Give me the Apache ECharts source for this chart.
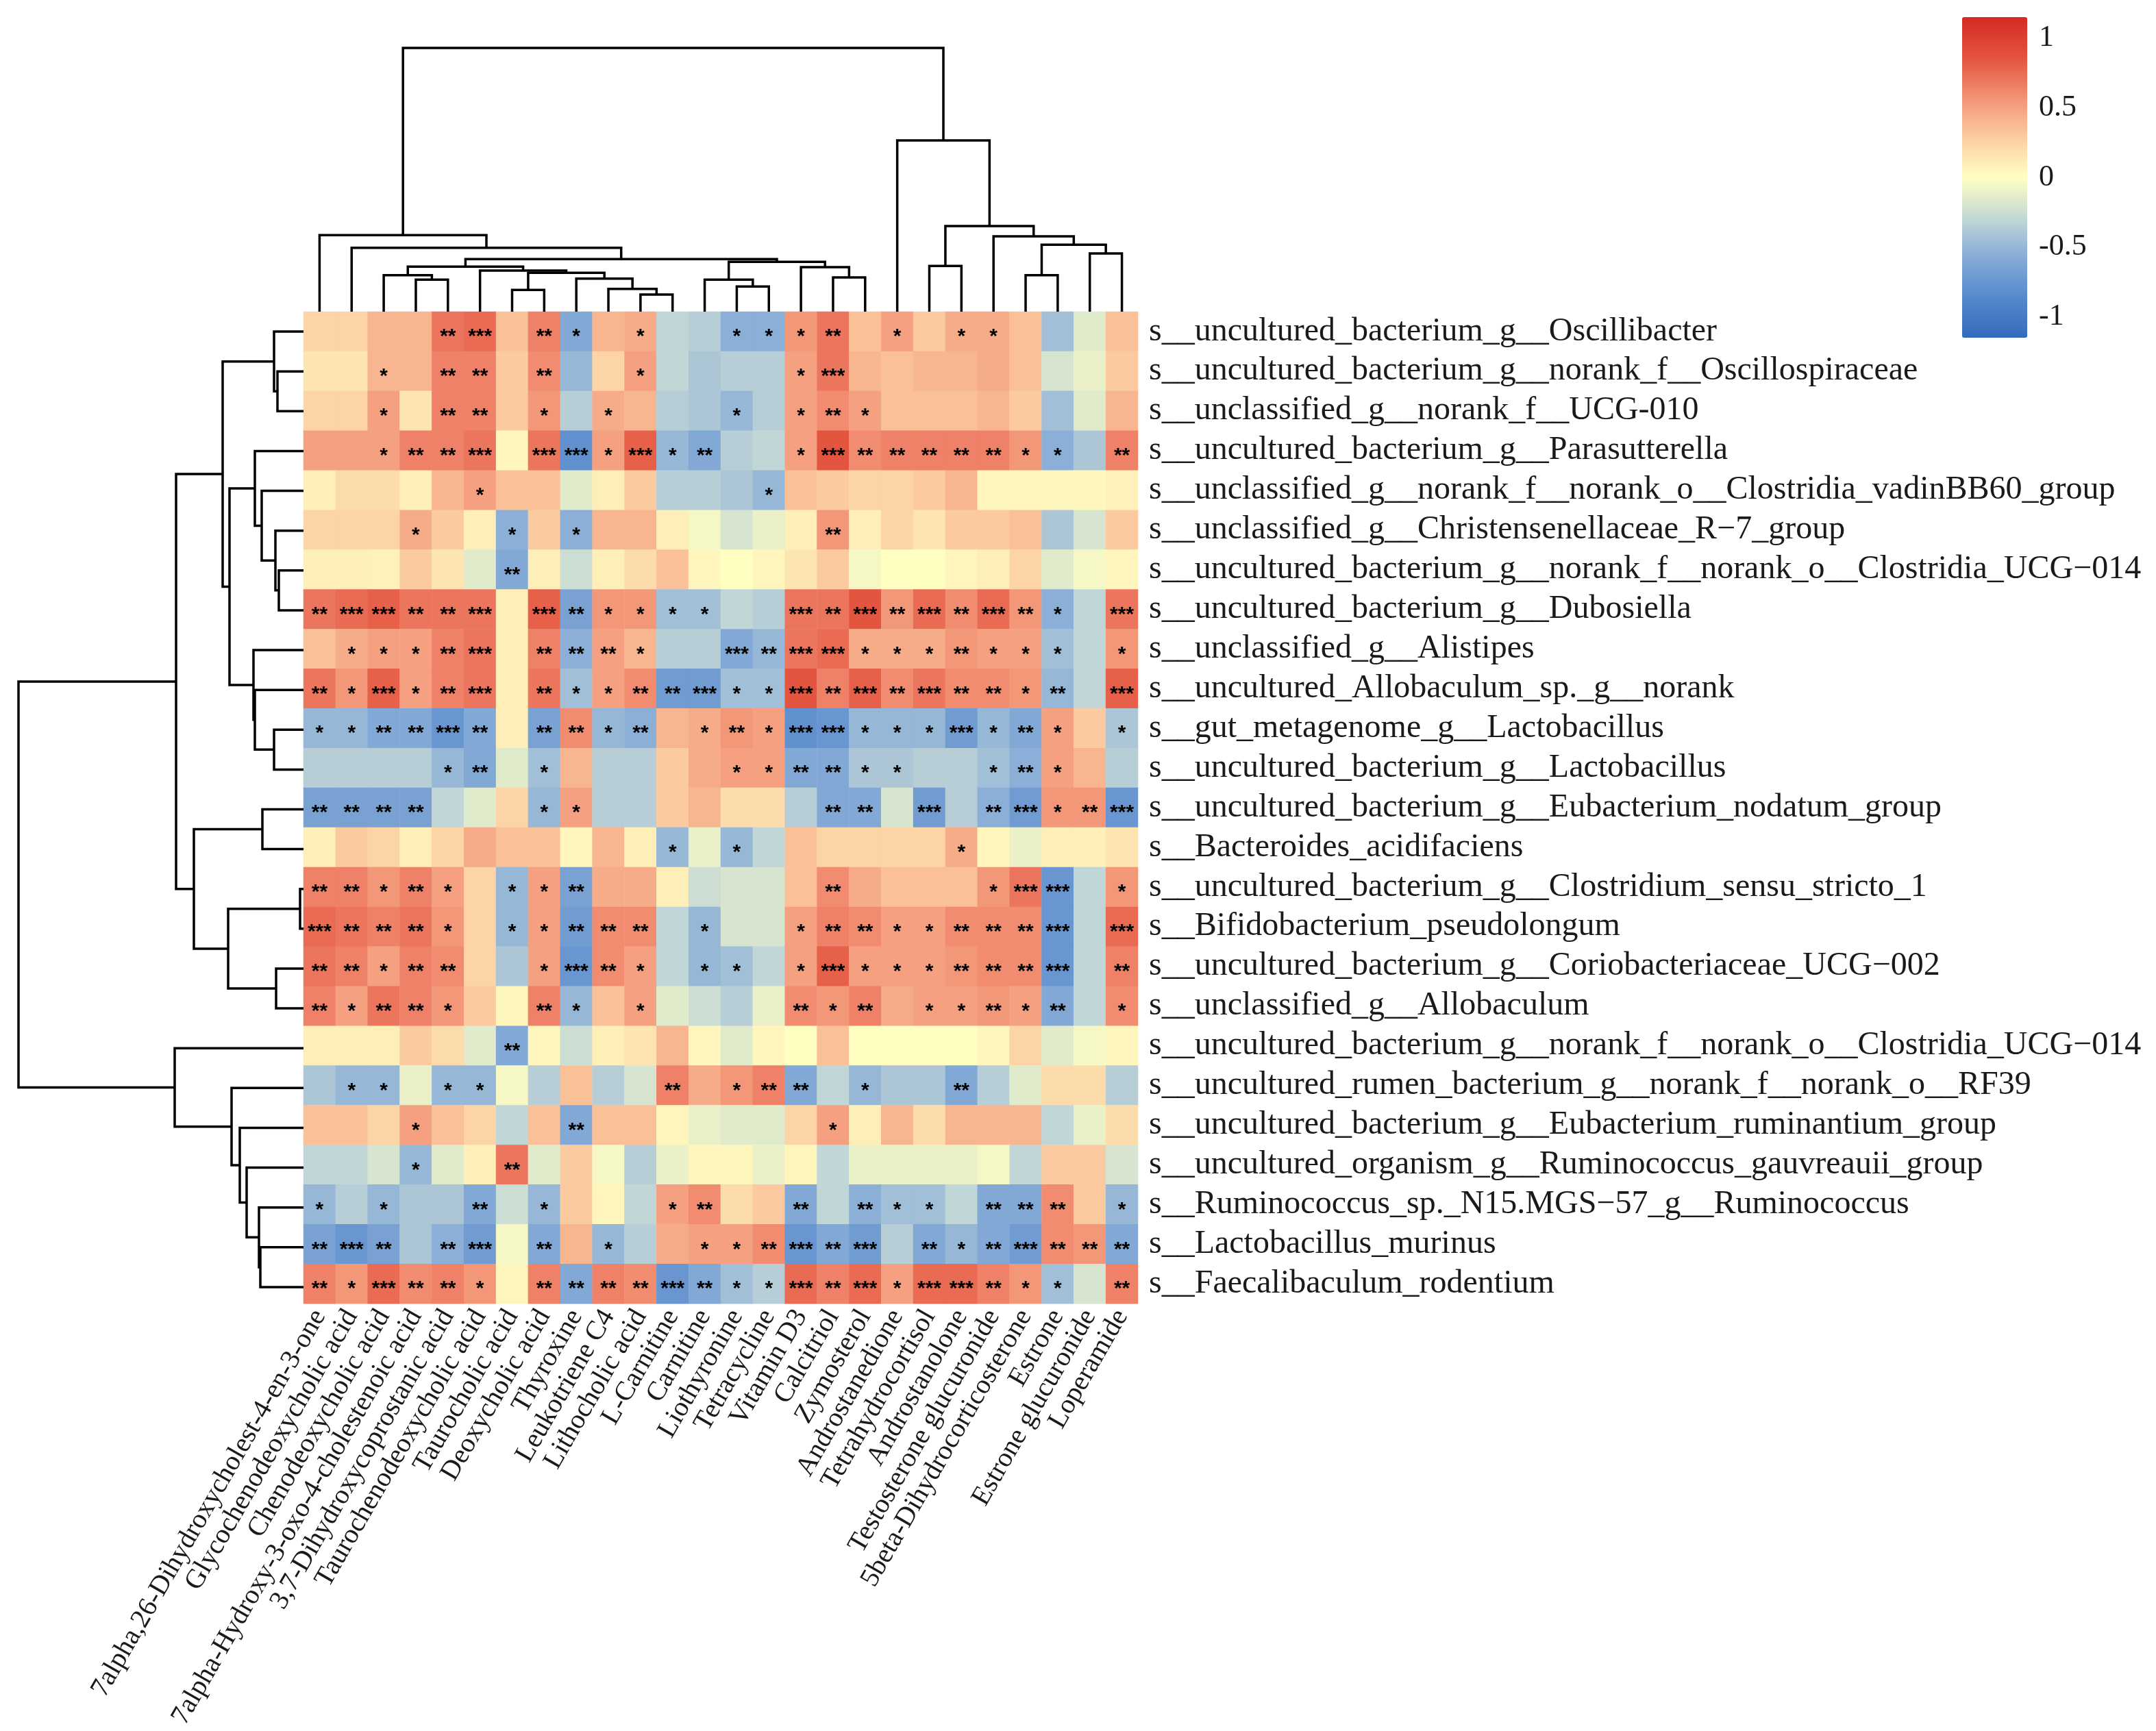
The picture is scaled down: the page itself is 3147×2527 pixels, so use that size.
<!DOCTYPE html>
<html><head><meta charset="utf-8">
<script src="https://cdn.jsdelivr.net/npm/echarts@6/dist/echarts.min.js"></script>
<style>html,body{margin:0;padding:0;background:#fff}#c{width:3147px;height:2527px}</style>
</head><body><div id="c"></div>
<script>
const colLabels = ["7alpha,26-Dihydroxycholest-4-en-3-one","Glycochenodeoxycholic acid","Chenodeoxycholic acid","7alpha-Hydroxy-3-oxo-4-cholestenoic acid","3,7-Dihydroxycoprostanic acid","Taurochenodeoxycholic acid","Taurocholic acid","Deoxycholic acid","Thyroxine","Leukotriene C4","Lithocholic acid","L-Carnitine","Carnitine","Liothyronine","Tetracycline","Vitamin D3","Calcitriol","Zymosterol","Androstanedione","Tetrahydrocortisol","Androstanolone","Testosterone glucuronide","5beta-Dihydrocorticosterone","Estrone","Estrone glucuronide","Loperamide"];
const rowLabels = ["s__uncultured_bacterium_g__Oscillibacter","s__uncultured_bacterium_g__norank_f__Oscillospiraceae","s__unclassified_g__norank_f__UCG-010","s__uncultured_bacterium_g__Parasutterella","s__unclassified_g__norank_f__norank_o__Clostridia_vadinBB60_group","s__unclassified_g__Christensenellaceae_R\u22127_group","s__uncultured_bacterium_g__norank_f__norank_o__Clostridia_UCG\u2212014","s__uncultured_bacterium_g__Dubosiella","s__unclassified_g__Alistipes","s__uncultured_Allobaculum_sp._g__norank","s__gut_metagenome_g__Lactobacillus","s__uncultured_bacterium_g__Lactobacillus","s__uncultured_bacterium_g__Eubacterium_nodatum_group","s__Bacteroides_acidifaciens","s__uncultured_bacterium_g__Clostridium_sensu_stricto_1","s__Bifidobacterium_pseudolongum","s__uncultured_bacterium_g__Coriobacteriaceae_UCG\u2212002","s__unclassified_g__Allobaculum","s__uncultured_bacterium_g__norank_f__norank_o__Clostridia_UCG\u2212014","s__uncultured_rumen_bacterium_g__norank_f__norank_o__RF39","s__uncultured_bacterium_g__Eubacterium_ruminantium_group","s__uncultured_organism_g__Ruminococcus_gauvreauii_group","s__Ruminococcus_sp._N15.MGS\u221257_g__Ruminococcus","s__Lactobacillus_murinus","s__Faecalibaculum_rodentium"];

// correlation values: one array per row (top to bottom), one entry per column (left to right)
const values = [
[0.25,0.25,0.4,0.4,0.7,0.75,0.35,0.65,-0.6,0.4,0.45,-0.3,-0.35,-0.55,-0.55,0.55,0.7,0.35,0.5,0.3,0.45,0.45,0.35,-0.45,-0.15,0.35],
[0.15,0.15,0.4,0.4,0.65,0.65,0.3,0.6,-0.5,0.25,0.5,-0.3,-0.4,-0.35,-0.35,0.5,0.7,0.4,0.35,0.4,0.4,0.45,0.35,-0.2,-0.1,0.3],
[0.25,0.25,0.5,0.15,0.65,0.65,0.3,0.55,-0.35,0.45,0.4,-0.35,-0.4,-0.5,-0.35,0.5,0.6,0.5,0.35,0.35,0.35,0.4,0.3,-0.45,-0.15,0.4],
[0.5,0.5,0.5,0.65,0.65,0.7,0.05,0.7,-0.8,0.5,0.8,-0.5,-0.6,-0.35,-0.3,0.5,0.85,0.6,0.65,0.65,0.65,0.65,0.55,-0.55,-0.4,0.65],
[0.1,0.2,0.2,0.1,0.4,0.5,0.35,0.35,-0.15,0.1,0.3,-0.35,-0.35,-0.4,-0.5,0.35,0.3,0.25,0.25,0.3,0.4,0.05,0.05,0.05,0.05,0.08],
[0.25,0.25,0.25,0.45,0.3,0.1,-0.55,0.3,-0.55,0.4,0.4,0.1,-0.05,-0.2,-0.1,0.1,0.55,0.1,0.25,0.15,0.3,0.3,0.35,-0.4,-0.2,0.3],
[0.1,0.1,0.08,0.3,0.15,-0.15,-0.6,0.1,-0.25,0.1,0.2,0.35,0.05,0.0,0.05,0.15,0.3,-0.05,0.0,0.0,0.05,0.1,0.25,-0.15,-0.05,0.05],
[0.7,0.75,0.8,0.7,0.7,0.7,0.1,0.8,-0.65,0.55,0.55,-0.45,-0.45,-0.3,-0.35,0.7,0.7,0.85,0.55,0.75,0.6,0.75,0.55,-0.55,-0.3,0.7],
[0.35,0.45,0.5,0.5,0.65,0.7,0.1,0.65,-0.55,0.5,0.4,-0.35,-0.35,-0.6,-0.5,0.7,0.75,0.45,0.45,0.45,0.55,0.5,0.5,-0.45,-0.3,0.55],
[0.7,0.55,0.8,0.5,0.65,0.7,0.1,0.7,-0.45,0.5,0.6,-0.7,-0.7,-0.45,-0.45,0.85,0.65,0.8,0.6,0.7,0.6,0.6,0.55,-0.5,-0.3,0.8],
[-0.5,-0.5,-0.6,-0.6,-0.75,-0.6,0.1,-0.65,0.6,-0.5,-0.55,0.4,0.45,0.55,0.5,-0.8,-0.75,-0.5,-0.5,-0.5,-0.7,-0.5,-0.6,0.5,0.3,-0.4],
[-0.35,-0.35,-0.35,-0.35,-0.5,-0.6,-0.15,-0.45,0.4,-0.35,-0.35,0.3,0.45,0.5,0.5,-0.6,-0.6,-0.4,-0.4,-0.35,-0.35,-0.45,-0.55,0.5,0.4,-0.35],
[-0.65,-0.65,-0.65,-0.65,-0.3,-0.15,0.25,-0.5,0.5,-0.35,-0.35,0.3,0.4,0.2,0.2,-0.35,-0.6,-0.6,-0.2,-0.7,-0.35,-0.55,-0.7,0.55,0.55,-0.75],
[0.1,0.3,0.25,0.1,0.25,0.45,0.35,0.35,0.05,0.4,0.1,-0.5,-0.1,-0.5,-0.3,0.35,0.25,0.25,0.25,0.25,0.45,0.05,-0.1,0.1,0.1,0.15],
[0.65,0.65,0.55,0.65,0.5,0.25,-0.5,0.5,-0.65,0.45,0.45,0.1,-0.25,-0.2,-0.2,0.35,0.6,0.45,0.35,0.35,0.35,0.55,0.7,-0.75,-0.3,0.55],
[0.75,0.7,0.65,0.7,0.55,0.25,-0.5,0.5,-0.7,0.6,0.6,-0.3,-0.5,-0.2,-0.2,0.5,0.65,0.6,0.5,0.5,0.6,0.6,0.6,-0.75,-0.3,0.75],
[0.7,0.65,0.5,0.65,0.6,0.25,-0.4,0.5,-0.75,0.6,0.5,-0.3,-0.5,-0.45,-0.3,0.5,0.8,0.5,0.5,0.5,0.55,0.6,0.6,-0.75,-0.3,0.65],
[0.65,0.5,0.7,0.65,0.55,0.3,0.05,0.65,-0.5,0.35,0.5,-0.15,-0.25,-0.35,-0.1,0.6,0.55,0.65,0.45,0.5,0.5,0.55,0.5,-0.6,-0.3,0.6],
[0.1,0.1,0.1,0.3,0.2,-0.15,-0.6,0.05,-0.25,0.1,0.15,0.4,0.05,-0.15,0.05,0.0,0.35,0.0,0.0,0.0,0.0,0.05,0.25,-0.15,-0.05,0.05],
[-0.4,-0.5,-0.5,-0.1,-0.5,-0.5,-0.05,-0.35,0.35,-0.35,-0.2,0.65,0.45,0.55,0.65,-0.6,-0.3,-0.5,-0.4,-0.4,-0.6,-0.35,-0.15,0.2,0.2,-0.35],
[0.35,0.35,0.25,0.5,0.35,0.25,-0.3,0.35,-0.6,0.35,0.35,0.05,-0.1,-0.15,-0.15,0.25,0.5,0.1,0.4,0.2,0.4,0.4,0.4,-0.3,-0.1,0.2],
[-0.3,-0.3,-0.2,-0.5,-0.15,0.1,0.7,-0.15,0.3,-0.05,-0.35,-0.1,0.05,0.05,-0.1,0.05,-0.3,-0.1,-0.1,-0.1,-0.1,-0.05,-0.3,0.3,0.3,-0.2],
[-0.5,-0.35,-0.5,-0.4,-0.4,-0.6,-0.25,-0.5,0.3,0.05,-0.3,0.5,0.6,0.2,0.3,-0.6,-0.3,-0.55,-0.45,-0.45,-0.3,-0.6,-0.6,0.6,0.3,-0.5],
[-0.65,-0.75,-0.65,-0.4,-0.55,-0.7,-0.05,-0.6,0.4,-0.5,-0.35,0.45,0.5,0.5,0.6,-0.75,-0.6,-0.7,-0.35,-0.6,-0.5,-0.6,-0.7,0.6,0.55,-0.6],
[0.65,0.55,0.75,0.6,0.65,0.55,0.05,0.65,-0.6,0.65,0.6,-0.75,-0.6,-0.45,-0.35,0.75,0.65,0.75,0.5,0.75,0.75,0.65,0.55,-0.45,-0.2,0.65]
];

// number of significance asterisks per cell (row strings, one digit per column)
const sig = [
"00002302101001112010110000",
"00102202001000013000000000",
"00102201010001012100000000",
"00122303313120013222221102",
"00000100000000100000000000",
"00010010100000002000000000",
"00000020000000000000000000",
"23322303211110032323232103",
"01112302221003233111211101",
"21312302112231132323221203",
"11223202212012133111312101",
"00001201000001122110012100",
"22220001100000002203023123",
"00000000000101000000100000",
"22121011200000002000013301",
"32221011222010012211222303",
"22122001321011013111222302",
"21221002101000021201121201",
"00000020000000000000000000",
"01101100000201220100200000",
"00010000200000001000000000",
"00010020000000000000000000",
"10100201000120020211022201",
"23202302010011232302123222",
"21322102222321132313321102"
];

// dendrograms: [mergeHeight, left, right]; integers are leaf indices
const colTree = [385,
  [111.7, 0, [93.3, 1, [76.7,
      [65.7, [53.3, 2, [46.7, 3, 4]], [60, 5, [56.7, [31.7, 6, 7], [48.3, 8, [33.3, 9, [25, 10, 11]]]]]],
      [72.7, [46.7, 12, [36.7, 13, 14]], [65, 15, [50, 16, 17]]]]]],
  [250, 18, [125, [66.7, 19, 20], [110, 21, [97.7, [53.3, 22, 23], [85, 24, 25]]]]]];

const rowTree = [416,
  [186,
    [118, [43, 0, [38, 1, 2]],
          [108, [71, 3, [61, 4, [41, 5, [36, 6, 7]]]], [73, 8, [71, 9, [43, 10, 11]]]]],
    [160, [60, 12, 13], [110, [5, 14, 15], [40, 16, 17]]]],
  [188, 18, [105, 19, [93, 20, [83, 21, [65, 22, [63, 23, 24]]]]]]];

const legendTicks = [-1, -0.5, 0, 0.5, 1];
const legendMin = -1.15, legendMax = 1.15;
const palette = ['#356bbd','#5689cc','#86abd6','#c4d8d6','#ffffc2','#fccda2','#f29275','#e3523e','#d42b25'];

function segments(tree, horizontal) {
  const out = [];
  function walk(n) {
    if (typeof n === 'number') return {p: n, h: 0};
    const l = walk(n[1]), r = walk(n[2]);
    const pts = [[l.p, l.h], [l.p, n[0]], [r.p, n[0]], [r.p, r.h]];
    out.push({coords: horizontal ? pts.map(q => [q[1], q[0]]) : pts});
    return {p: (l.p + r.p) / 2, h: n[0]};
  }
  walk(tree);
  return out;
}

const heat = [];
values.forEach((row, r) => row.forEach((v, c) => heat.push([c, r, v])));

const HM = {left: 443, top: 455, width: 1218, height: 1453};
const serif = 'Liberation Serif';
const chart = echarts.init(document.getElementById('c'));
chart.setOption({
  backgroundColor: '#fff',
  animation: false,
  grid: [
    {left: HM.left, top: HM.top, width: HM.width, height: HM.height},
    {left: HM.left, top: 70, width: HM.width, height: HM.top - 70},
    {left: 27, top: HM.top, width: HM.left - 27, height: HM.height},
    {left: 2864, top: 25, width: 95, height: 468}
  ],
  xAxis: [
    {gridIndex: 0, type: 'category', data: colLabels, position: 'bottom',
     axisLine: {show: false}, axisTick: {show: false}, splitLine: {show: false},
     axisLabel: {rotate: 60, interval: 0, margin: 12, fontFamily: serif, fontSize: 40, color: '#1a1a1a'}},
    {gridIndex: 1, type: 'value', min: -0.5, max: colLabels.length - 0.5, show: false},
    {gridIndex: 2, type: 'value', min: 0, max: 416, inverse: true, show: false},
    {gridIndex: 3, type: 'value', show: false}
  ],
  yAxis: [
    {gridIndex: 0, type: 'category', data: rowLabels.map((_, i) => String(i)), inverse: true, position: 'right',
     axisLine: {show: false}, axisTick: {show: false}, splitLine: {show: false},
     axisLabel: {interval: 0, margin: 16, fontFamily: serif, fontSize: 48, color: '#1a1a1a',
                 formatter: v => rowLabels[+v]}},
    {gridIndex: 1, type: 'value', min: 0, max: HM.top - 70, show: false},
    {gridIndex: 2, type: 'value', min: -0.5, max: rowLabels.length - 0.5, inverse: true, show: false},
    {gridIndex: 3, type: 'value', min: legendMin, max: legendMax, position: 'right', offset: 5,
     axisLine: {show: false}, splitLine: {show: false},
     axisTick: {show: true, length: 10, customValues: legendTicks, lineStyle: {color: '#222', width: 3}},
     axisLabel: {customValues: legendTicks, margin: 12, fontFamily: serif, fontSize: 44, color: '#1a1a1a'}}
  ],
  visualMap: {
    type: 'continuous', seriesIndex: 0, min: legendMin, max: legendMax, calculable: false,
    orient: 'vertical', left: 2864, top: 25, itemWidth: 95, itemHeight: 468, padding: 0,
    text: null, hoverLink: false, inRange: {color: palette}
  },
  series: [
    {type: 'heatmap', xAxisIndex: 0, yAxisIndex: 0, data: heat, emphasis: {disabled: true},
     label: {show: true, formatter: p => '*'.repeat(+sig[p.data[1]][p.data[0]]),
             fontFamily: 'Liberation Sans', fontWeight: 'bold', fontSize: 30, color: '#000', offset: [0, 8]}},
    {type: 'lines', coordinateSystem: 'cartesian2d', xAxisIndex: 1, yAxisIndex: 1, polyline: true, clip: false,
     data: segments(colTree, false), lineStyle: {color: '#000', width: 3.5, opacity: 1}, silent: true},
    {type: 'lines', coordinateSystem: 'cartesian2d', xAxisIndex: 2, yAxisIndex: 2, polyline: true, clip: false,
     data: segments(rowTree, true), lineStyle: {color: '#000', width: 3.5, opacity: 1}, silent: true}
  ]
});
</script>
</body></html>
